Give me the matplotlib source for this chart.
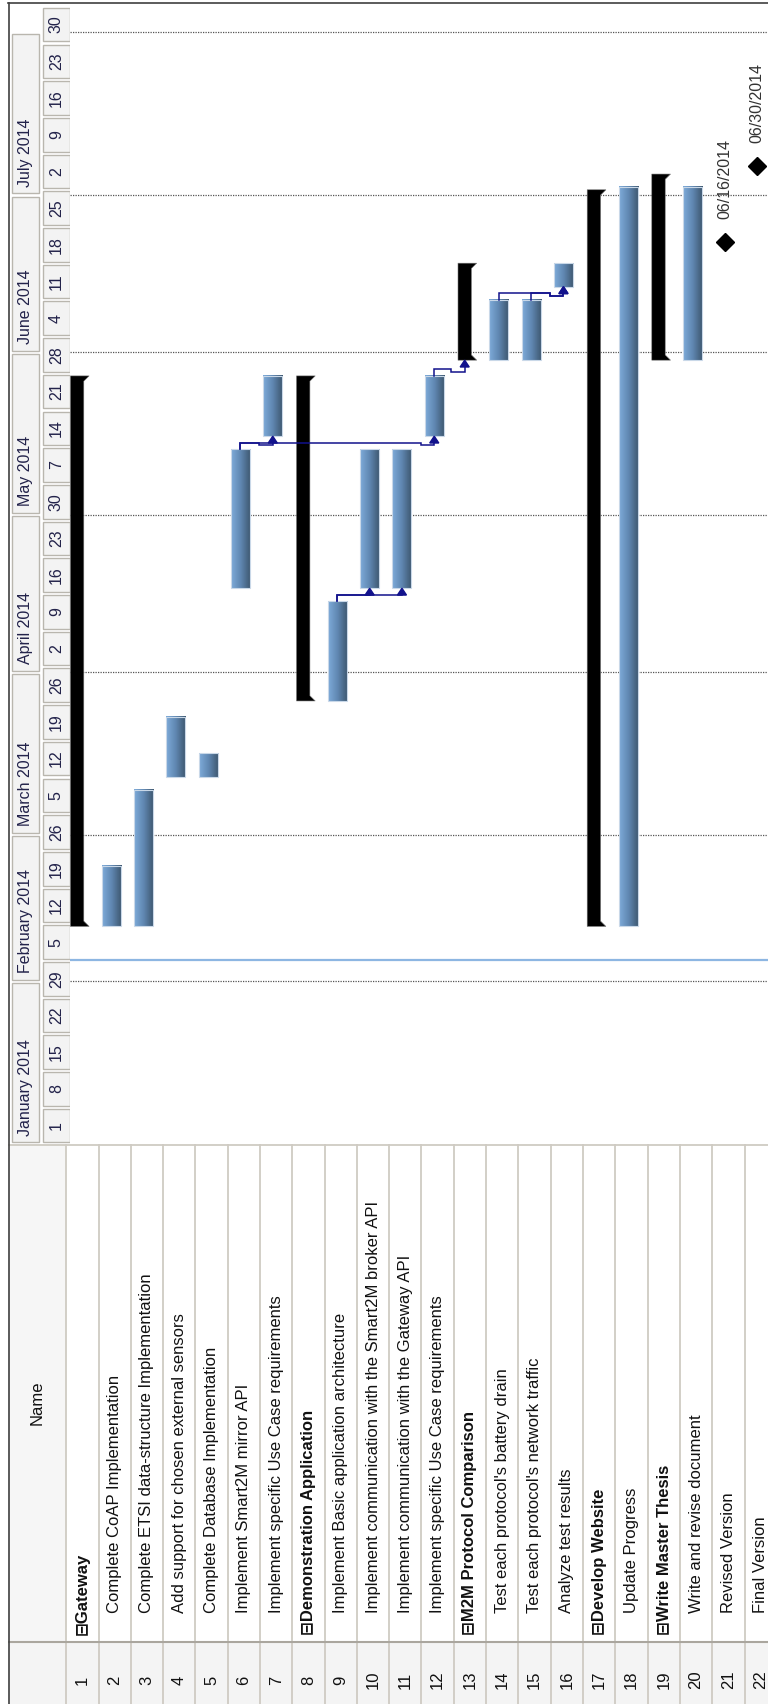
import numpy as np
import pandas as pd
import matplotlib
matplotlib.use('Agg')
import matplotlib.pyplot as plt
import matplotlib.dates as mdates
from matplotlib.patches import Rectangle, Polygon
from matplotlib.lines import Line2D
from matplotlib.colors import LinearSegmentedColormap

plt.rcParams['font.family'] = ['Liberation Sans', 'DejaVu Sans']

# ---------------- data ----------------
task_names = [
    'Gateway',
    'Complete CoAP Implementation',
    'Complete ETSI data-structure Implementation',
    'Add support for chosen external sensors',
    'Complete Database Implementation',
    'Implement Smart2M mirror API',
    'Implement specific Use Case requirements',
    'Demonstration Application',
    'Implement Basic application architecture',
    'Implement communication with the Smart2M broker API',
    'Implement communication with the Gateway API',
    'Implement specific Use Case requirements',
    'M2M Protocol Comparison',
    "Test each protocol's battery drain",
    "Test each protocol's network traffic",
    'Analyze test results',
    'Develop Website',
    'Update Progress',
    'Write Master Thesis',
    'Write and revise document',
    'Revised Version',
    'Final Version',
]
summary_rows = [1, 8, 13, 17, 19]

bar_rows = [1, 2, 3, 4, 5, 6, 7, 8, 9, 10, 11, 12, 13, 14, 15, 16, 17, 18, 19, 20]
bar_start = ['2014-02-11 12:00', '2014-02-11 12:00', '2014-02-11 12:00', '2014-03-12', '2014-03-12',
             '2014-04-17', '2014-05-16', '2014-03-26 12:00', '2014-03-26 12:00', '2014-04-17',
             '2014-04-17', '2014-05-16', '2014-05-30 12:00', '2014-05-30 12:00', '2014-05-30 12:00',
             '2014-06-13 12:00', '2014-02-11 12:00', '2014-02-11 12:00', '2014-05-30 12:00', '2014-05-30 12:00']
bar_end = ['2014-05-27 12:00', '2014-02-23', '2014-03-09 12:00', '2014-03-23 12:00', '2014-03-16 12:00',
           '2014-05-13 12:00', '2014-05-27 12:00', '2014-05-27 12:00', '2014-04-14 12:00', '2014-05-13 12:00',
           '2014-05-13 12:00', '2014-05-27 12:00', '2014-06-18', '2014-06-11', '2014-06-11',
           '2014-06-18', '2014-07-02', '2014-07-02 12:00', '2014-07-05', '2014-07-02 12:00']

milestone_rows = [21, 22]
milestone_dates = ['2014-06-22', '2014-07-06 12:00']
milestone_labels = ['06/16/2014', '06/30/2014']

# predecessor -> successor
link_from = [6, 6, 9, 9, 12, 14, 15]
link_to = [7, 12, 10, 11, 13, 16, 16]
link_jog = [True, True, False, False, True, True, True]

month_labels = ['January 2014', 'February 2014', 'March 2014', 'April 2014',
                'May 2014', 'June 2014', 'July 2014']
month_starts = pd.date_range('2014-01-01', periods=8, freq='MS')
week_starts = pd.date_range('2014-01-01', '2014-07-30', freq='7D')
status_date = '2014-02-05'

# ---------------- layout (pixels of the 768x1704 canvas) ----------------
W, H = 768, 1704
DAY_PX = 5.243
ROW_PX = 32.3
ROW0_PX = 66.2          # left edge of row 1
TAB_TOP = 1144          # where the timeline meets the table
TOP = 3
STRIP_TOP = 1642 - TAB_TOP  # row-number strip, in table coords
TAB_H = H - TAB_TOP


def u(px):
    return (px - ROW0_PX) / ROW_PX


def d2n(s):
    if isinstance(s, (list, tuple)):
        return mdates.date2num(pd.to_datetime(s, format='ISO8601').to_pydatetime())
    return mdates.date2num(pd.Timestamp(s).to_pydatetime())


y_lo = d2n('2014-01-01')
y_hi = y_lo + (TAB_TOP - TOP) / DAY_PX

fig = plt.figure(figsize=(W / 100, H / 100), dpi=100)
fig.patch.set_facecolor('white')

# ---------------- gantt area ----------------
ax = fig.add_axes([70 / W, 1 - TAB_TOP / H, (W - 70) / W, (TAB_TOP - TOP) / H])
ax.set_facecolor('white')
ax.axis('off')

for ms in month_starts[1:]:
    ax.axhline(d2n(ms), color='#555555', lw=0.9, ls=(0, (1, 1)), zorder=1)
ax.axhline(d2n(status_date), color='#8db6e2', lw=1.6, zorder=1)

bar_cmap = LinearSegmentedColormap.from_list('bar', ['#7eabd9', '#5f86b0', '#3d566e'])
grad = np.linspace(0, 1, 64).reshape(1, -1)

starts = d2n(bar_start)
ends = d2n(bar_end)
centers = {}
for r, s, e in zip(bar_rows, starts, ends):
    if r in summary_rows:
        x0, x1, xc = r - 1 + 0.13, r - 1 + 0.545, r - 1 + 0.71
        cap = 1.0
        ax.add_patch(Polygon([(x0, s), (xc, s), (x1, s + cap), (x1, e - cap), (xc, e), (x0, e)],
                             closed=True, facecolor='black', edgecolor='#777777', lw=0.4, zorder=3))
        centers[r] = ((x0 + x1) / 2, s, e)
    else:
        x0, x1 = r - 1 + 0.1, r - 1 + 0.69
        ax.imshow(grad, extent=(x0, x1, s, e), cmap=bar_cmap, aspect='auto',
                  interpolation='bilinear', zorder=3)
        ax.add_patch(Rectangle((x0, s), x1 - x0, e - s, fill=False,
                               edgecolor='#c9d8e8', lw=0.8, zorder=4))
        centers[r] = ((x0 + x1) / 2, s, e)

# dependency links
navy = '#12128c'
for p, q, jog in zip(link_from, link_to, link_jog):
    px, _, pe = centers[p]
    tx, ts, _ = centers[q]
    ymid = pe + 1.25
    ah = 1.3
    if jog:
        xs = [px, px, tx - 0.42, tx - 0.42, tx, tx]
        ys = [pe, ymid, ymid, ymid - 0.5, ymid - 0.5, ts - ah]
    else:
        xs = [px, px, tx, tx]
        ys = [pe, ymid, ymid, ts - ah]
    ax.plot(xs, ys, color=navy, lw=1.1, zorder=5, solid_joinstyle='miter')
    ax.add_patch(Polygon([(tx - 0.14, ts - ah), (tx + 0.14, ts - ah), (tx, ts)],
                         closed=True, color=navy, zorder=5))

# milestones
for r, d, lab in zip(milestone_rows, d2n(milestone_dates), milestone_labels):
    xm = r - 1 + 0.395
    ax.plot([xm], [d], marker='D', ms=9.5, color='black', zorder=6)
    ax.annotate(lab, (xm, d), xytext=(0, 17), textcoords='offset points',
                rotation=90, rotation_mode='anchor', ha='left', va='center',
                fontsize=11.5, color='#333333')

ax.set_xlim(u(70), u(W))
ax.set_ylim(y_lo, y_hi)

# ---------------- timeline header ----------------
hax = fig.add_axes([8 / W, 1 - TAB_TOP / H, 62 / W, (TAB_TOP - TOP) / H])
hax.axis('off')
hax.set_xlim(8, 70)
hax.set_ylim(y_lo, y_hi)
hdr_col = '#22224a'
gap = 0.3
for lab, a, b in zip(month_labels, month_starts[:-1], month_starts[1:]):
    ya, yb = d2n(a), d2n(b)
    hax.add_patch(Rectangle((11.7, ya + gap), 27.6, yb - ya - 2 * gap, facecolor='#f3f3f3',
                            edgecolor='#b9b6ae', lw=1.0, clip_on=True))
    hax.text(25.5, ya + 1.6, lab, rotation=90, rotation_mode='anchor', ha='left', va='center',
             fontsize=11.5, color=hdr_col, clip_on=True)
for ws in week_starts:
    ya = d2n(ws)
    hax.add_patch(Rectangle((42.7, ya + gap), 27.3, 7 - 2 * gap, facecolor='#f3f3f3',
                            edgecolor='#b9b6ae', lw=1.0, clip_on=True))
    hax.text(56.3, ya + 3.5, str(ws.day), rotation=90, ha='center', va='center',
             fontsize=11.5, color=hdr_col, clip_on=True)

# ---------------- task table ----------------
tax = fig.add_axes([8 / W, 0, (W - 8) / W, TAB_H / H])
tax.axis('off')
tax.set_xlim(u(8), u(W))
tax.set_ylim(TAB_H, 0)
n = len(task_names)
sep = '#cfcbc3'
tax.add_patch(Rectangle((u(8), 0), -u(8), TAB_H, facecolor='#f6f6f6', edgecolor='none'))
tax.add_patch(Rectangle((u(8), STRIP_TOP), u(W) - u(8), TAB_H - STRIP_TOP,
                        facecolor='#f4f4f4', edgecolor='none'))
for i in range(n + 1):
    tax.plot([i, i], [0, TAB_H], color=sep, lw=1.3)
tax.plot([u(8), u(W)], [STRIP_TOP, STRIP_TOP], color='#aaa69e', lw=1.5)
tax.plot([u(8), u(W)], [0.5, 0.5], color=sep, lw=1.3)
tax.text(u(8) / 2, 259, 'Name', rotation=90, ha='center', va='center',
         fontsize=12, color='#111111')
for i, name in enumerate(task_names, start=1):
    tax.text(i - 0.5, STRIP_TOP + 38, str(i), rotation=90, ha='center',
             va='center', fontsize=12, color='#111111')
    if i in summary_rows:
        tax.text(i - 0.5, STRIP_TOP - 7, '\u229f' + name, rotation=90, rotation_mode='anchor',
                 ha='left', va='center', fontsize=12, fontweight='bold', color='#111111')
    else:
        tax.text(i - 0.5, STRIP_TOP - 29, name, rotation=90, rotation_mode='anchor',
                 ha='left', va='center', fontsize=12, color='#111111')

# outer frame
fig.add_artist(Line2D([8.5 / W, 8.5 / W], [0, 1 - TOP / H], color='#404040', lw=1.2))
fig.add_artist(Line2D([8 / W, 1], [1 - TOP / H, 1 - TOP / H], color='#404040', lw=1.2))

fig.savefig('out.png', dpi=100, facecolor='white')
